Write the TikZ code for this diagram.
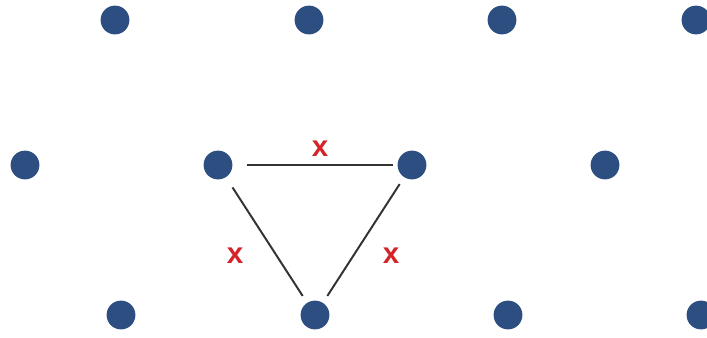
\documentclass[tikz,border=0pt]{standalone}
\usepackage{fontspec}
\setsansfont{Liberation Sans}
\usetikzlibrary{positioning}

\definecolor{dotblue}{RGB}{44,78,128}
\definecolor{markred}{RGB}{212,36,40}

\begin{document}
\begin{tikzpicture}[x=0.025cm, y=-0.025cm,
        site/.style={circle, fill=dotblue, draw=none, minimum size=0.72cm, inner sep=0pt},
        bond/.style={line width=1.4pt, draw=black!80, shorten <=0.2cm, shorten >=0.2cm},
        cross/.style={font=\fontsize{21}{21}\selectfont\sffamily\bfseries, text=markred, inner sep=0pt}]

      % frame of the picture
      \useasboundingbox (0,0) rectangle (707,337);

      % 1. Top row of sites
      \node [site] (t1) at (115, 20) {};
      \node [site] (t2) at (309, 20) {};
      \node [site] (t3) at (502, 20) {};
      \node [site] (t4) at (696, 20) {};

      % 2. Middle row of sites
      \node [site] (m1) at (25, 165) {};
      \node [site] (m2) at (218, 165) {};
      \node [site] (m3) at (412, 165) {};
      \node [site] (m4) at (605, 165) {};

      % 3. Bottom row of sites
      \node [site] (b1) at (121, 315) {};
      \node [site] (b2) at (315, 315) {};
      \node [site] (b3) at (508, 315) {};
      \node [site] (b4) at (701, 315) {};

      % 4. Bonds of the triangle
      \draw [bond, shorten <=0.35cm, shorten >=0.1cm] (m2) -- (m3);
      \draw [bond, shorten <=0.3cm] (m2) -- (b2);
      \draw [bond] (m3) -- (b2);

      % 5. Marks on the bonds
      \node [cross] (xtop) at (320, 149) {x};
      \node [cross] (xleft) at (235, 256) {x};
      \node [cross] (xright) at (391, 256) {x};
    \end{tikzpicture}
\end{document}
